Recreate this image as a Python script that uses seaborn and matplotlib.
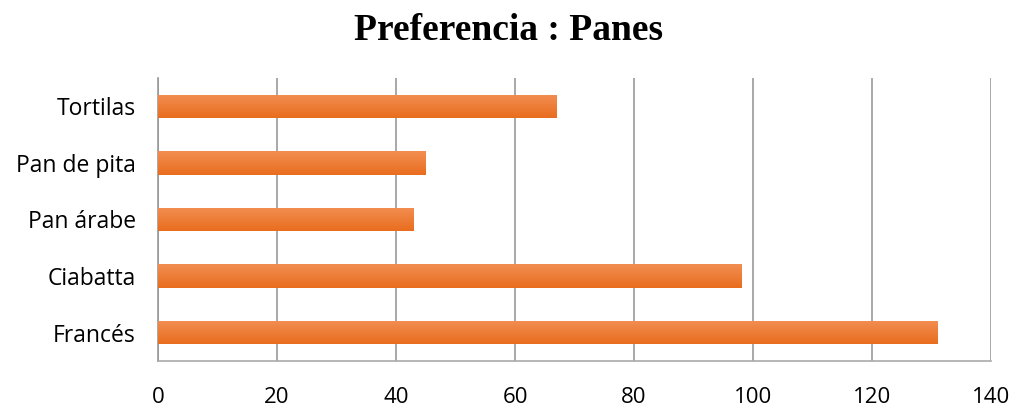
import numpy as np
import pandas as pd
import matplotlib
matplotlib.use("Agg")
import matplotlib.pyplot as plt
import seaborn as sns
from matplotlib.colors import LinearSegmentedColormap

categories = ["Tortilas", "Pan de pita", "Pan árabe", "Ciabatta", "Francés"]
values = [67, 45, 43, 98, 131]
xticks = [0, 20, 40, 60, 80, 100, 120, 140]
title = "Preferencia : Panes"

sns.set_theme(style="white")
plt.rcParams['font.family'] = ['Open Sans', 'DejaVu Sans']
plt.rcParams['text.color'] = 'black'

df = pd.DataFrame({"cat": categories, "val": values})

fig = plt.figure(figsize=(10.17, 4.09), dpi=100)
ax = fig.add_axes([158/1017, 1-361/409, (991-158)/1017, (361-78)/409])

sns.barplot(data=df, y="cat", x="val", orient="h", color="#EE7A30",
            width=0.415, ax=ax, zorder=3, saturation=1)

# gradient fill on each bar (light top -> darker bottom)
cmap = LinearSegmentedColormap.from_list("g", ["#E96D1E", "#F28E52"])
grad = np.linspace(0, 1, 64).reshape(-1, 1)
for p in ax.patches:
    x0, y0 = p.get_x(), p.get_y()
    w, h = p.get_width(), p.get_height()
    p.set_edgecolor("none")
    im = ax.imshow(grad, cmap=cmap, aspect="auto", extent=(x0, x0 + w, y0 + h, y0),
                   origin="lower", zorder=4, interpolation="bilinear")
    im.set_clip_path(p)

ax.set_xlim(0, 140)
ax.set_ylim(4.5, -0.5)
ax.set_xticks(xticks)
ax.set_xticklabels([str(t) for t in xticks], fontsize=16, color="black")
ax.tick_params(axis="y", labelsize=16.5, colors="black", length=0, pad=16)
ax.tick_params(axis="x", length=0, pad=19)
ax.set_xlabel("")
ax.set_ylabel("")

ax.grid(axis="x", color="#999999", linewidth=1.2, zorder=0)
ax.grid(axis="y", visible=False)
for s in ["top", "right"]:
    ax.spines[s].set_visible(False)
ax.spines["left"].set_color("#999999")
ax.spines["left"].set_linewidth(1.2)
ax.spines["bottom"].set_color("#aaaaaa")
ax.spines["bottom"].set_linewidth(1.2)

fig.text(0.5, 1-40/409, title, ha="center", va="baseline", fontsize=27,
         fontweight="bold", color="black", family=["Liberation Serif", "DejaVu Serif"])

fig.savefig("out.png", dpi=100, facecolor="white")
